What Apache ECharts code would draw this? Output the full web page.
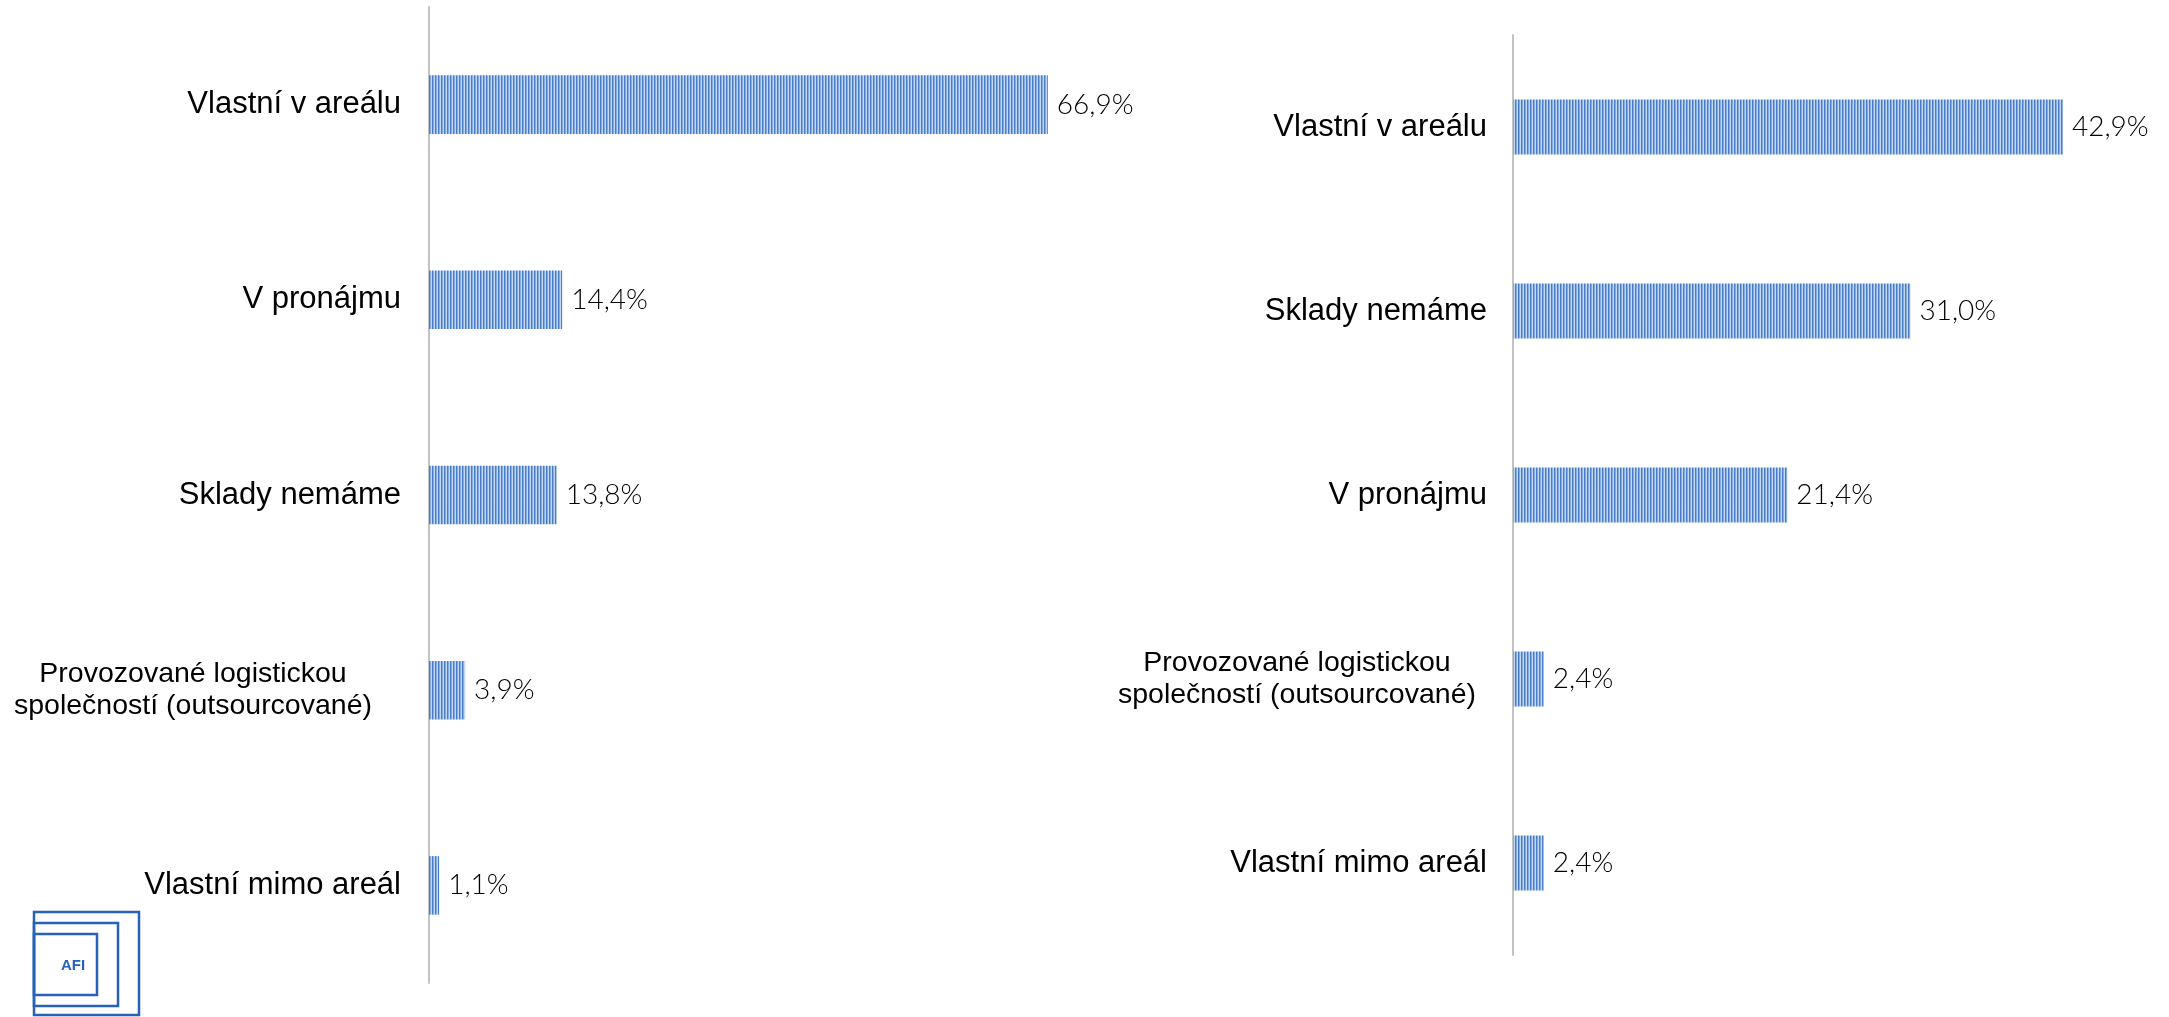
<!DOCTYPE html>
<html>
<head>
<meta charset="utf-8">
<script src="https://cdn.jsdelivr.net/npm/echarts@6/dist/echarts.min.js"></script>
<style>
  html, body { margin: 0; padding: 0; background: #ffffff; }
  #chart { width: 2169px; height: 1017px; }
</style>
</head>
<body>
<div id="chart"></div>
<script>
// Left panel
const leftCategories = [
  'Vlastní v areálu',
  'V pronájmu',
  'Sklady nemáme',
  'Provozované logistickou\nspolečností (outsourcované)',
  'Vlastní mimo areál'
];
const leftValues = [66.9, 14.4, 13.8, 3.9, 1.1];

// Right panel
const rightCategories = [
  'Vlastní v areálu',
  'Sklady nemáme',
  'V pronájmu',
  'Provozované logistickou\nspolečností (outsourcované)',
  'Vlastní mimo areál'
];
const rightValues = [42.9, 31.0, 21.4, 2.4, 2.4];

// Vertical hatch fill for the bars
function stripePattern() {
  const c = document.createElement('canvas');
  c.width = 3; c.height = 4;
  const ctx = c.getContext('2d');
  ctx.fillStyle = '#c2d7f2';
  ctx.fillRect(0, 0, 3, 4);
  ctx.fillStyle = '#4a7cc8';
  ctx.fillRect(0, 0, 1, 4);
  ctx.fillStyle = '#86abdf';
  ctx.fillRect(1, 0, 1, 4);
  return c;
}
const barFill = { image: stripePattern(), repeat: 'repeat' };

const fmtPct = v => v.toFixed(1).replace('.', ',') + '%';

// Wrapped category names are centred line by line inside a fixed-width block
function catLabel(value) {
  if (value.indexOf('\n') < 0) return value;
  return value.split('\n').map(l => '{c|' + l + '}').join('\n');
}

function yAxisFor(gridIndex, data, margin, blockWidth) {
  return {
    gridIndex: gridIndex,
    type: 'category',
    inverse: true,
    data: data,
    axisTick: { show: false },
    axisLine: { show: true, lineStyle: { color: '#c3c3c3', width: 2 } },
    splitLine: { show: false },
    axisLabel: {
      margin: margin,
      fontFamily: 'Liberation Sans, Arial, sans-serif',
      fontSize: 31,
      color: '#000000',
      lineHeight: 32,
      formatter: catLabel,
      rich: {
        c: {
          width: blockWidth,
          align: 'center',
          fontFamily: 'Liberation Sans, Arial, sans-serif',
          fontSize: 28.5,
          color: '#000000',
          lineHeight: 32
        }
      }
    }
  };
}

function barSeries(idx, values) {
  return {
    type: 'bar',
    xAxisIndex: idx,
    yAxisIndex: idx,
    data: values,
    barWidth: '30%',
    itemStyle: { color: barFill },
    label: {
      show: true,
      position: 'right',
      distance: 9,
      fontFamily: 'Lato, Inter, sans-serif',
      fontWeight: 300,
      fontSize: 28,
      color: '#000000',
      formatter: p => fmtPct(p.value)
    },
    emphasis: { disabled: true }
  };
}

const chart = echarts.init(document.getElementById('chart'), null, { renderer: 'canvas' });

chart.setOption({
  backgroundColor: '#ffffff',
  animation: false,
  grid: [
    { left: 429, top: 7, width: 740, height: 976, outerBoundsMode: 'none', containLabel: false },
    { left: 1513, top: 35, width: 641, height: 920, outerBoundsMode: 'none', containLabel: false }
  ],
  xAxis: [
    { gridIndex: 0, type: 'value', min: 0, max: 80, show: false },
    { gridIndex: 1, type: 'value', min: 0, max: 50, show: false }
  ],
  yAxis: [
    yAxisFor(0, leftCategories, 28, 416),
    yAxisFor(1, rightCategories, 26, 380)
  ],
  series: [
    barSeries(0, leftValues),
    barSeries(1, rightValues)
  ],
  graphic: [
    { type: 'rect', shape: { x: 34, y: 912, width: 105, height: 103 },
      style: { fill: 'none', stroke: '#2862b6', lineWidth: 2.5 } },
    { type: 'rect', shape: { x: 34, y: 923, width: 84, height: 83 },
      style: { fill: 'none', stroke: '#2862b6', lineWidth: 2.5 } },
    { type: 'rect', shape: { x: 34, y: 934, width: 63, height: 61 },
      style: { fill: 'none', stroke: '#2862b6', lineWidth: 2.5 } },
    { type: 'text', x: 73, y: 966,
      style: { text: 'AFI', fill: '#2862b6', font: 'bold 15px "Liberation Sans", Arial, sans-serif',
               textAlign: 'center', textVerticalAlign: 'middle' } }
  ]
});
</script>
</body>
</html>
